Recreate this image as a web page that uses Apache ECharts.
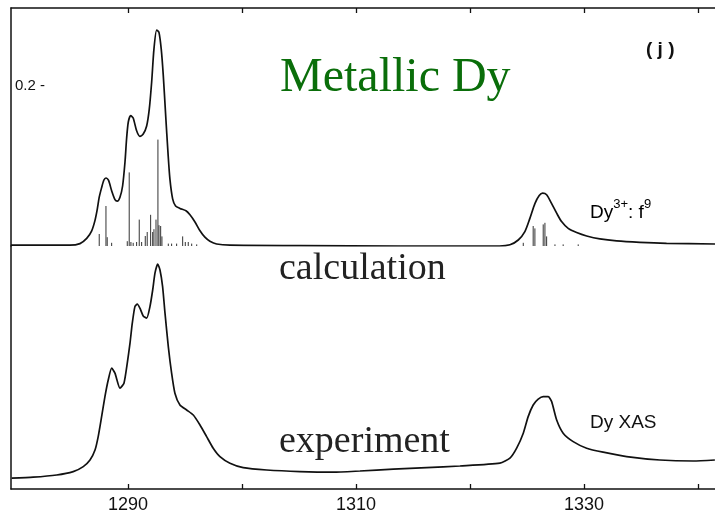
<!DOCTYPE html>
<html>
<head>
<meta charset="utf-8">
<script src="https://cdn.jsdelivr.net/npm/echarts@6/dist/echarts.min.js"></script>
<style>
  html, body { margin: 0; padding: 0; background: #ffffff; }
  #chart { width: 715px; height: 515px; }
</style>
</head>
<body>
<div id="chart"></div>
<script>
// Photon energy window (eV) shared by both panels
const energyMin = 1279.74;
const energyMax = 1341.5;
const tickValues = [1290, 1300, 1310, 1320, 1330, 1340];
const tickLabels = [1290, 1310, 1330];
const calcTickValues = [0.2];

// Calculated Dy3+ 4f9 spectrum, broadened
const calcEnergy = [
  1279.74, 1284.9, 1285.79, 1286.38, 1286.82, 1287.11, 1287.31, 1287.48, 1287.69, 1287.89,
  1288.07, 1288.30, 1288.57, 1288.86, 1289.06, 1289.30, 1289.53, 1289.74, 1289.88, 1290.03,
  1290.24, 1290.46, 1290.76, 1291.05, 1291.34, 1291.64, 1291.87, 1292.08, 1292.28, 1292.52,
  1292.72, 1292.92, 1293.10, 1293.31, 1293.51, 1293.68, 1293.92, 1294.18, 1294.56, 1295.09,
  1295.44, 1295.88, 1296.32, 1296.75, 1297.19, 1297.78, 1298.95, 1305.1, 1313.9, 1322.6,
  1323.51, 1324.24, 1324.82, 1325.26, 1325.70, 1326.08, 1326.38, 1326.73, 1327.17, 1327.61,
  1328.04, 1328.62, 1329.36, 1330.24, 1331.40, 1332.87, 1334.91, 1337.25, 1341.5
];
const calcIntensity = [
  0.001, 0.001, 0.003, 0.0095, 0.019, 0.032, 0.046, 0.061, 0.073, 0.0825,
  0.085, 0.082, 0.069, 0.058, 0.056, 0.061, 0.075, 0.105, 0.134, 0.155,
  0.163, 0.160, 0.144, 0.137, 0.140, 0.150, 0.171, 0.205, 0.246, 0.270,
  0.267, 0.246, 0.213, 0.163, 0.117, 0.084, 0.059, 0.050, 0.047, 0.044,
  0.039, 0.030, 0.019, 0.011, 0.006, 0.0025, 0.001, 0.0005, 0.0, 0.0,
  0.0015, 0.0075, 0.018, 0.0345, 0.053, 0.063, 0.066, 0.064, 0.053, 0.041,
  0.0305, 0.022, 0.0168, 0.0125, 0.0088, 0.0063, 0.0046, 0.0034, 0.0025
];

// Multiplet lines of the calculation (position, strength)
const stickEnergy = [
  1287.48, 1288.07, 1288.18, 1288.57, 1289.94, 1290.11, 1290.26, 1290.46, 1290.76, 1290.99,
  1291.20, 1291.52, 1291.69, 1291.99, 1292.17, 1292.28, 1292.46, 1292.63, 1292.72, 1292.87,
  1292.98, 1293.54, 1293.83, 1294.27, 1294.80, 1295.03, 1295.29, 1295.59, 1296.03,
  1324.68, 1325.55, 1325.70, 1326.43, 1326.58, 1326.73, 1327.46, 1328.18, 1329.50
];
const stickStrength = [
  0.015, 0.050, 0.011, 0.004, 0.006, 0.092, 0.005, 0.004, 0.005, 0.033,
  0.005, 0.0125, 0.0175, 0.039, 0.0175, 0.021, 0.033, 0.133, 0.026, 0.025,
  0.012, 0.003, 0.003, 0.003, 0.012, 0.005, 0.005, 0.003, 0.002,
  0.004, 0.025, 0.022, 0.027, 0.029, 0.012, 0.002, 0.002, 0.002
];

// Measured Dy M4,5 XAS (arbitrary units)
const expEnergy = [
  1279.8, 1281.69, 1283.75, 1285.20, 1286.08, 1286.67, 1287.11, 1287.39, 1287.69, 1287.98,
  1288.27, 1288.57, 1288.86, 1289.30, 1289.65, 1289.94, 1290.18, 1290.38, 1290.61, 1290.82,
  1291.05, 1291.34, 1291.64, 1291.93, 1292.17, 1292.37, 1292.61, 1292.81, 1293.04, 1293.25,
  1293.54, 1293.83, 1294.12, 1294.56, 1295.15, 1295.73, 1296.32, 1296.90, 1297.48, 1298.07,
  1298.95, 1300.11, 1302.17, 1305.09, 1308.01, 1310.35, 1313.27, 1316.20, 1319.12, 1322.63,
  1323.51, 1324.10, 1324.68, 1325.11, 1325.55, 1325.99, 1326.43, 1326.87, 1327.17, 1327.61,
  1328.18, 1329.06, 1330.24, 1331.69, 1333.75, 1336.67, 1339.59, 1341.49
];
const expIntensity = [
  0.054, 0.059, 0.070, 0.087, 0.112, 0.145, 0.195, 0.262, 0.362, 0.462,
  0.545, 0.604, 0.579, 0.504, 0.529, 0.629, 0.729, 0.829, 0.912, 0.925,
  0.904, 0.865, 0.854, 0.912, 0.995, 1.079, 1.125, 1.095, 1.012, 0.879,
  0.712, 0.579, 0.479, 0.420, 0.395, 0.370, 0.320, 0.262, 0.204, 0.162,
  0.129, 0.107, 0.095, 0.087, 0.084, 0.090, 0.099, 0.107, 0.115, 0.129,
  0.154, 0.204, 0.279, 0.362, 0.420, 0.449, 0.462, 0.462, 0.437, 0.345,
  0.279, 0.237, 0.204, 0.184, 0.162, 0.145, 0.140, 0.145
];

const zip = (xs, ys) => xs.map((x, i) => [x, ys[i]]);
const ink = '#111111';
const sans = 'Liberation Sans';

const chart = echarts.init(document.getElementById('chart'), null, { renderer: 'canvas' });

chart.setOption({
  animation: false,
  backgroundColor: '#ffffff',
  grid: [
    { left: 11, right: 0, top: 8, height: 238 },
    { left: 11, right: 0, top: 246, height: 243 }
  ],
  xAxis: [
    {
      gridIndex: 0, type: 'value', min: energyMin, max: energyMax, position: 'top',
      axisLine: { show: true, onZero: false, lineStyle: { color: ink, width: 1.5 } },
      axisTick: { show: true, inside: true, length: 5, customValues: tickValues, lineStyle: { color: ink, width: 1.3 } },
      axisLabel: { show: false },
      splitLine: { show: false }
    },
    {
      gridIndex: 1, type: 'value', min: energyMin, max: energyMax, position: 'bottom',
      axisLine: { show: true, onZero: false, lineStyle: { color: ink, width: 1.5 } },
      axisTick: { show: true, inside: true, length: 5, customValues: tickValues, lineStyle: { color: ink, width: 1.3 } },
      axisLabel: {
        show: true, customValues: tickLabels, margin: 7,
        formatter: v => String(v),
        color: ink, fontFamily: sans, fontSize: 18
      },
      splitLine: { show: false }
    }
  ],
  yAxis: [
    {
      gridIndex: 0, type: 'value', min: 0, max: 0.2975,
      axisLine: { show: true, onZero: false, lineStyle: { color: ink, width: 1.5 } },
      axisTick: { show: false },
      axisLabel: {
        show: true, inside: true, margin: 4, customValues: calcTickValues,
        formatter: v => v.toFixed(1) + ' -',
        color: ink, fontFamily: sans, fontSize: 15
      },
      splitLine: { show: false }
    },
    {
      gridIndex: 1, type: 'value', min: 0, max: 1.215,
      axisLine: { show: true, onZero: false, lineStyle: { color: ink, width: 1.5 } },
      axisTick: { show: false },
      axisLabel: { show: false },
      splitLine: { show: false }
    }
  ],
  series: [
    {
      name: 'calculation',
      type: 'line', xAxisIndex: 0, yAxisIndex: 0,
      data: zip(calcEnergy, calcIntensity),
      showSymbol: false, smooth: 0.25,
      lineStyle: { color: ink, width: 1.7 }
    },
    {
      name: 'multiplet lines',
      type: 'custom', xAxisIndex: 0, yAxisIndex: 0,
      data: zip(stickEnergy, stickStrength),
      encode: { x: 0, y: 1 },
      renderItem: (params, api) => {
        const base = api.coord([api.value(0), 0]);
        const top = api.coord([api.value(0), api.value(1)]);
        return {
          type: 'line',
          shape: { x1: base[0], y1: base[1], x2: top[0], y2: top[1] },
          style: { stroke: '#333333', lineWidth: 1 }
        };
      }
    },
    {
      name: 'experiment',
      type: 'line', xAxisIndex: 1, yAxisIndex: 1,
      data: zip(expEnergy, expIntensity),
      showSymbol: false, smooth: 0.2,
      lineStyle: { color: ink, width: 1.7 }
    }
  ],
  graphic: [
    {
      type: 'text', x: 280, y: 78,
      style: { text: 'Metallic Dy', font: '48px "Liberation Serif"', fill: '#0a6e0a', verticalAlign: 'middle' }
    },
    {
      type: 'text', x: 279, y: 269,
      style: { text: 'calculation', font: '38px "Liberation Serif"', fill: '#222222', verticalAlign: 'middle' }
    },
    {
      type: 'text', x: 279, y: 442,
      style: { text: 'experiment', font: '38px "Liberation Serif"', fill: '#222222', verticalAlign: 'middle' }
    },
    {
      type: 'text', x: 646, y: 50,
      style: { text: '( j )', font: 'bold 19px "Liberation Sans"', fill: ink, verticalAlign: 'middle' }
    },
    {
      type: 'text', x: 590, y: 423,
      style: { text: 'Dy XAS', font: '19px "Liberation Sans"', fill: ink, verticalAlign: 'middle' }
    },
    {
      type: 'text', x: 590, y: 210,
      style: {
        text: '{m|Dy}{s|3+}{m|: f}{s|9}',
        verticalAlign: 'middle',
        rich: {
          m: { fontFamily: sans, fontSize: 19, color: ink, lineHeight: 24, verticalAlign: 'bottom' },
          s: { fontFamily: sans, fontSize: 13, color: ink, lineHeight: 24, verticalAlign: 'top' }
        }
      }
    }
  ]
});
</script>
</body>
</html>
